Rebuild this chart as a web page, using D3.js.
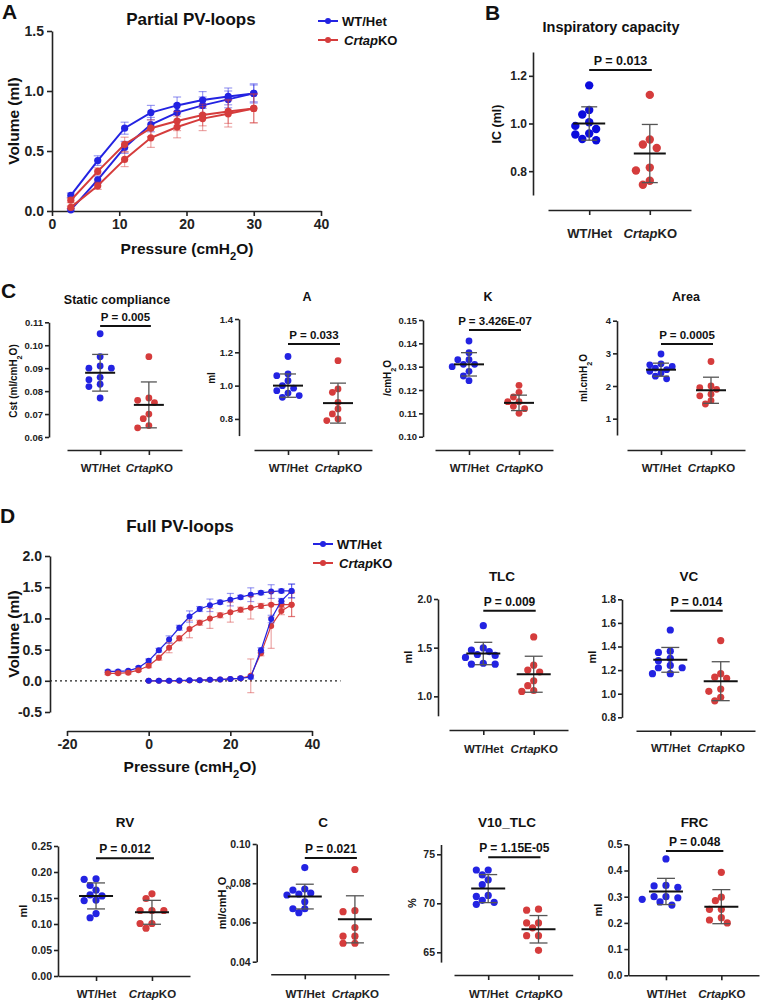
<!DOCTYPE html>
<html lang="en">
<head>
<meta charset="UTF-8">
<title>PV loops</title>
<script src="https://cdn.jsdelivr.net/npm/d3@7"></script>
<style>
body { margin: 0; background: #fff; }
svg { font-family: "Liberation Sans", Arial, sans-serif; font-weight: bold; }
.axis path, .axis line { stroke: #222; stroke-width: 1.6px; }
.axis text { fill: #222; font-family: "Liberation Sans", Arial, sans-serif; font-weight: bold; }
</style>
</head>
<body>
<script>
// ---------------- data ----------------
var groups = ['WT/Het', 'CrtapKO'];

// A  partial PV loops
var partialP = [2.8, 6.8, 10.8, 14.7, 18.6, 22.4, 26.2, 30];
var partWTdef = [0.13, 0.42, 0.69, 0.82, 0.88, 0.925, 0.955, 0.98];
var partWTdefSd = [0.02, 0.04, 0.05, 0.06, 0.07, 0.07, 0.07, 0.07];
var partWTinf = [0.01, 0.26, 0.53, 0.72, 0.82, 0.88, 0.93, 0.98];
var partWTinfSd = [0.01, 0.03, 0.05, 0.06, 0.07, 0.07, 0.07, 0.08];
var partKOdef = [0.09, 0.33, 0.555, 0.69, 0.75, 0.80, 0.83, 0.855];
var partKOdefSd = [0.02, 0.03, 0.06, 0.07, 0.08, 0.09, 0.10, 0.12];
var partKOinf = [0.03, 0.21, 0.43, 0.61, 0.70, 0.77, 0.81, 0.855];
var partKOinfSd = [0.01, 0.03, 0.06, 0.08, 0.09, 0.10, 0.11, 0.12];

// D  full PV loops
var defP = [-10, -7.5, -5, -2.5, 0, 2.5, 5, 7.5, 10, 12.5, 15, 17.5, 20, 22.5, 25, 27.5, 30, 32.5, 35];
var fullWTdef = [0.15, 0.15, 0.16, 0.21, 0.32, 0.49, 0.66, 0.85, 1.03, 1.15, 1.21, 1.26, 1.30, 1.34, 1.38, 1.41, 1.43, 1.44, 1.44];
var fullWTdefSd = [0.02, 0.02, 0.02, 0.02, 0.03, 0.03, 0.06, 0.04, 0.09, 0.04, 0.1, 0.03, 0.1, 0.03, 0.11, 0.03, 0.11, 0.03, 0.11];
var fullKOdef = [0.12, 0.12, 0.13, 0.17, 0.24, 0.37, 0.53, 0.68, 0.83, 0.93, 1.00, 1.05, 1.10, 1.14, 1.17, 1.20, 1.22, 1.22, 1.22];
var fullKOdefSd = [0.02, 0.02, 0.02, 0.02, 0.03, 0.04, 0.08, 0.04, 0.14, 0.04, 0.16, 0.04, 0.16, 0.04, 0.18, 0.04, 0.2, 0.05, 0.19];
var infP = [0, 2.5, 5, 7.5, 10, 12.5, 15, 17.5, 20, 22.5, 25, 27.5, 30, 32.5, 35];
var fullWTinf = [0, 0, 0, 0.005, 0.01, 0.01, 0.015, 0.02, 0.03, 0.04, 0.06, 0.49, 0.99, 1.28, 1.44];
var fullWTinfSd = [0.01, 0.01, 0.01, 0.01, 0.01, 0.01, 0.01, 0.01, 0.01, 0.02, 0.03, 0.04, 0.06, 0.04, 0.11];
var fullKOinf = [0, 0, 0, 0, 0.005, 0.01, 0.015, 0.02, 0.03, 0.04, 0.08, 0.44, 0.88, 1.12, 1.22];
var fullKOinfSd = [0.01, 0.01, 0.01, 0.01, 0.01, 0.01, 0.01, 0.01, 0.01, 0.02, 0.27, 0.04, 0.36, 0.06, 0.19];

// dot plots: individual animals, mean, SD, p value
var icWT = [1.16, 1.057, 1.038, 1.005, 0.99, 0.977, 0.958, 0.954, 0.935, 0.93];
var icKO = [1.12, 0.933, 0.912, 0.897, 0.815, 0.803, 0.76, 0.743];
var icMean = [1.0, 0.874], icSd = [0.07, 0.122];

var cstWT = [0.105, 0.095, 0.091, 0.090, 0.090, 0.086, 0.085, 0.083, 0.082, 0.077];
var cstKO = [0.095, 0.077, 0.076, 0.075, 0.070, 0.068, 0.065, 0.064];
var cstMean = [0.088, 0.074], cstSd = [0.008, 0.010];

var aWT = [1.175, 1.07, 1.06, 1.03, 1.0, 0.985, 0.97, 0.955, 0.94, 0.93];
var aKO = [1.15, 0.98, 0.96, 0.90, 0.86, 0.83, 0.80, 0.79];
var aMean = [1.0, 0.895], aSd = [0.07, 0.12];

var kWT = [0.141, 0.136, 0.133, 0.133, 0.131, 0.131, 0.130, 0.128, 0.126, 0.124];
var kKO = [0.122, 0.119, 0.117, 0.115, 0.115, 0.113, 0.112, 0.110];
var kMean = [0.131, 0.1145], kSd = [0.005, 0.0033];

var areaWT = [2.98, 2.68, 2.65, 2.6, 2.55, 2.5, 2.45, 2.4, 2.3, 2.22];
var areaKO = [2.75, 2.0, 1.95, 1.9, 1.75, 1.7, 1.55, 1.45];
var areaMean = [2.5, 1.87], areaSd = [0.2, 0.4];

var tlcWT = [1.726, 1.497, 1.476, 1.46, 1.43, 1.42, 1.40, 1.34, 1.33, 1.33];
var tlcKO = [1.61, 1.32, 1.27, 1.25, 1.16, 1.11, 1.06, 1.05];
var tlcMean = [1.44, 1.227], tlcSd = [0.115, 0.185];

var vcWT = [1.54, 1.36, 1.35, 1.30, 1.28, 1.24, 1.22, 1.22, 1.17, 1.17];
var vcKO = [1.45, 1.17, 1.14, 1.13, 1.04, 1.02, 0.97, 0.94];
var vcMean = [1.287, 1.106], vcSd = [0.105, 0.165];

var rvWT = [0.187, 0.186, 0.174, 0.165, 0.156, 0.154, 0.146, 0.145, 0.12, 0.112];
var rvKO = [0.158, 0.149, 0.126, 0.126, 0.126, 0.101, 0.101, 0.092];
var rvMean = [0.154, 0.1225], rvSd = [0.025, 0.023];

var cWT = [0.088, 0.077, 0.0765, 0.0745, 0.075, 0.074, 0.0705, 0.067, 0.067, 0.065];
var cKO = [0.087, 0.0655, 0.066, 0.0574, 0.053, 0.053, 0.0494, 0.0494];
var cMean = [0.0732, 0.0616], cSd = [0.0063, 0.012];

var v10WT = [73.4, 73.4, 72.9, 72.4, 71.9, 70.8, 70.7, 70.3, 70.1, 69.9];
var v10KO = [69.4, 69.3, 68.0, 68.0, 67.5, 66.7, 66.7, 65.2];
var v10Mean = [71.5, 67.35], v10Sd = [1.43, 1.4];

var frcWT = [0.444, 0.343, 0.341, 0.336, 0.30, 0.30, 0.296, 0.29, 0.28, 0.268];
var frcKO = [0.393, 0.298, 0.285, 0.252, 0.252, 0.22, 0.211, 0.20];
var frcMean = [0.32, 0.262], frcSd = [0.05, 0.065];

// ---------------- drawing ----------------
var BLUE = '#2323e2', RED = '#d53c3c';
var svg = d3.select('body').append('svg').attr('width', 760).attr('height', 1001);

// plain hyphen minus like the original figure
function fmt(spec) {
	var f = d3.format(spec);
	return function (d) { return f(d).replace('\u2212', '-'); };
}

function rich(t, parts) {
	t.text(null);
	parts.forEach(function (p) {
		var s = t.append('tspan').text(p[0]);
		if (p[1] === 'i') s.attr('font-style', 'italic');
		if (p[1] === 'sub') s.attr('baseline-shift', 'sub').attr('font-size', '0.72em');
	});
	return t;
}
var groupParts = { 'WT/Het': [['WT/Het']], 'CrtapKO': [['Crtap', 'i'], ['KO']] };
var cmH2O = function (pre, post) { return [[pre + 'cmH'], ['2', 'sub'], ['O' + (post || '')]]; };

function label(x, y, parts, size, anchor, rotate) {
	var t = svg.append('text').attr('font-size', size).attr('text-anchor', anchor || 'middle').attr('fill', '#111');
	if (rotate) t.attr('transform', 'translate(' + x + ',' + y + ') rotate(-90)');
	else t.attr('x', x).attr('y', y);
	return rich(t, typeof parts === 'string' ? [[parts]] : parts);
}

// panel letters
label(2, 19, 'A', 21, 'start');
label(485, 20, 'B', 21, 'start');
label(1, 298, 'C', 21, 'start');
label(0, 523, 'D', 21, 'start');

// ---- line panels ----
function series(g, x, y, P, V, E, color, lw, r, cap) {
	var eb = g.append('g').attr('stroke', color).attr('stroke-opacity', 0.45).attr('stroke-width', 1.2);
	P.forEach(function (p, i) {
		eb.append('line').attr('x1', x(p)).attr('x2', x(p)).attr('y1', y(V[i] - E[i])).attr('y2', y(V[i] + E[i]));
		[V[i] - E[i], V[i] + E[i]].forEach(function (v) {
			eb.append('line').attr('x1', x(p) - cap).attr('x2', x(p) + cap).attr('y1', y(v)).attr('y2', y(v));
		});
	});
	g.append('path').datum(P.map(function (p, i) { return [p, V[i]]; }))
		.attr('fill', 'none').attr('stroke', color).attr('stroke-width', lw)
		.attr('d', d3.line().x(function (d) { return x(d[0]); }).y(function (d) { return y(d[1]); }));
	g.selectAll(null).data(P).enter().append('circle')
		.attr('cx', function (p) { return x(p); }).attr('cy', function (p, i) { return y(V[i]); })
		.attr('r', r).attr('fill', color);
}

function legend(x, y, size, lw) {
	[[BLUE, groupParts['WT/Het']], [RED, groupParts['CrtapKO']]].forEach(function (d, i) {
		var yy = y + i * 19;
		svg.append('line').attr('x1', x).attr('x2', x + 20).attr('y1', yy).attr('y2', yy).attr('stroke', d[0]).attr('stroke-width', lw);
		svg.append('circle').attr('cx', x + 10).attr('cy', yy).attr('r', 3).attr('fill', d[0]);
		label(x + 24 + (i ? 2 : 0), yy + 4.5, d[1], size, 'start');
	});
}

// A
(function () {
	var x = d3.scaleLinear().domain([0, 40]).range([52, 321]);
	var y = d3.scaleLinear().domain([0, 1.5]).range([211, 31]);
	svg.append('g').attr('class', 'axis').attr('transform', 'translate(0,211)')
		.call(d3.axisBottom(x).tickValues([0, 10, 20, 30, 40]).tickSize(5).tickSizeOuter(0).tickPadding(3))
		.style('font-size', '14px');
	svg.append('g').attr('class', 'axis').attr('transform', 'translate(52,0)')
		.call(d3.axisLeft(y).tickValues([0, 0.5, 1, 1.5]).tickFormat(fmt('.1f')).tickSize(5).tickSizeOuter(0).tickPadding(3))
		.style('font-size', '14px');
	var g = svg.append('g');
	series(g, x, y, partialP, partWTdef, partWTdefSd, BLUE, 2, 3.6, 4);
	series(g, x, y, partialP, partWTinf, partWTinfSd, BLUE, 2, 3.6, 4);
	series(g, x, y, partialP, partKOdef, partKOdefSd, RED, 2, 3.6, 4);
	series(g, x, y, partialP, partKOinf, partKOinfSd, RED, 2, 3.6, 4);
	label(191, 25, 'Partial PV-loops', 17);
	label(187, 254, cmH2O('Pressure (', ')'), 15.5);
	label(19, 121, 'Volume (ml)', 15.5, 'middle', true);
	legend(318, 21, 13, 2);
})();

// D
(function () {
	var x = d3.scaleLinear().domain([-20, 40]).range([67, 312]);
	var y = d3.scaleLinear().domain([-0.5, 2]).range([712, 556]);
	svg.append('g').attr('class', 'axis').attr('transform', 'translate(0,731)')
		.call(d3.axisBottom(x).tickValues([-20, 0, 20, 40]).tickFormat(fmt('d')).tickSize(5).tickSizeOuter(0).tickPadding(3))
		.style('font-size', '14px');
	svg.append('g').attr('class', 'axis').attr('transform', 'translate(50,0)')
		.call(d3.axisLeft(y).tickValues([-0.5, 0, 0.5, 1, 1.5, 2]).tickFormat(fmt('.1f')).tickSize(5).tickSizeOuter(0).tickPadding(3))
		.style('font-size', '14px');
	svg.append('line').attr('x1', 50).attr('x2', x(47)).attr('y1', y(0)).attr('y2', y(0))
		.attr('stroke', '#222').attr('stroke-width', 1.3).attr('stroke-dasharray', '2,3');
	var g = svg.append('g');
	series(g, x, y, defP, fullWTdef, fullWTdefSd, BLUE, 1.2, 3, 3.5);
	series(g, x, y, defP, fullKOdef, fullKOdefSd, RED, 1.2, 3, 3.5);
	series(g, x, y, infP, fullKOinf, fullKOinfSd, RED, 1.2, 3, 3.5);
	series(g, x, y, infP, fullWTinf, fullWTinfSd, BLUE, 1.2, 3, 3.5);
	label(180, 532, 'Full PV-loops', 17);
	label(190, 772, cmH2O('Pressure (', ')'), 15.5);
	label(19, 634, 'Volume (ml)', 15.5, 'middle', true);
	legend(313, 544, 13, 2);
})();

// ---- dot plots ----
function swarm(vals, y, cx, r, s) {
	var placed = [];
	vals.slice().sort(function (a, b) { return b - a; }).forEach(function (v) {
		var py = y(v);
		for (var k = 0; k < 11; k++) {
			var px = cx + (k % 2 ? -1 : 1) * Math.ceil(k / 2) * s;
			if (placed.every(function (p) { return Math.hypot(p.x - px, p.y - py) >= 1.9 * r; })) {
				placed.push({ x: px, y: py });
				break;
			}
		}
	});
	return placed;
}

function dotPanel(c) {
	var g = svg.append('g');
	var y = d3.scaleLinear().domain(c.yDomain).range([c.yBottom, c.yTop]);
	var x = d3.scalePoint().domain(groups).range(c.xAxis).padding(0.68);
	g.append('g').attr('class', 'axis').attr('transform', 'translate(' + c.yAxisX + ',0)')
		.call(d3.axisLeft(y).tickValues(c.ticks).tickFormat(fmt(c.fmt)).tickSize(4).tickSizeOuter(0).tickPadding(2))
		.style('font-size', c.tickFont + 'px');
	var xa = g.append('g').attr('class', 'axis').attr('transform', 'translate(0,' + c.xAxisY + ')')
		.call(d3.axisBottom(x).tickSize(5).tickSizeOuter(0));
	xa.selectAll('.tick text').attr('y', c.labelY - c.xAxisY).attr('dy', 0).style('font-size', c.labelFont + 'px')
		.each(function (d) { rich(d3.select(this), groupParts[d]); });

	[c.wt, c.ko].forEach(function (vals, gi) {
		var col = gi ? RED : (c.blue || BLUE);
		var cx = x(groups[gi]);
		g.selectAll(null).data(swarm(vals, y, cx, c.r, c.r * 1.65)).enter().append('circle')
			.attr('cx', function (d) { return d.x; }).attr('cy', function (d) { return d.y; })
			.attr('r', c.r).attr('fill', col);
		var m = c.mean[gi], s = c.sd[gi];
		g.append('line').attr('x1', cx).attr('x2', cx).attr('y1', y(m - s)).attr('y2', y(m + s)).attr('stroke', '#555').attr('stroke-width', 1.3);
		[m - s, m + s].forEach(function (v) {
			g.append('line').attr('x1', cx - c.cap).attr('x2', cx + c.cap).attr('y1', y(v)).attr('y2', y(v)).attr('stroke', '#555').attr('stroke-width', 1.3);
		});
		g.append('line').attr('x1', cx - c.mw).attr('x2', cx + c.mw).attr('y1', y(m)).attr('y2', y(m)).attr('stroke', '#111').attr('stroke-width', 2);
	});

	var x0 = x(groups[0]), x1 = x(groups[1]);
	g.append('line').attr('x1', x0).attr('x2', x1 + 2).attr('y1', c.pY).attr('y2', c.pY).attr('stroke', '#111').attr('stroke-width', 2);
	label((x0 + x1) / 2 + 1, c.pY - 5, c.p, c.pFont);
	label(c.title[0], c.title[1], c.title[2], c.titleFont);
	label(c.ylab[0], c.ylab[1], c.ylab[2], c.ylabFont, 'middle', true);
}

var rowC = { xAxisY: 450, labelY: 471.5, tickFont: 9.5, labelFont: 11.5, r: 3.4, cap: 8, mw: 15, pFont: 11.5, titleFont: 12.5, ylabFont: 10 };
var rowD = { xAxisY: 730, labelY: 752.5, tickFont: 10.5, labelFont: 11.5, r: 3.6, cap: 9, mw: 17, pFont: 12, titleFont: 13.5, ylabFont: 11 };
var rowE = { xAxisY: 975.5, labelY: 998, tickFont: 10.5, labelFont: 11.5, r: 3.6, cap: 9, mw: 17, pFont: 12, titleFont: 13.5, ylabFont: 11 };

dotPanel({
	wt: icWT, ko: icKO, mean: icMean, sd: icSd, p: 'P = 0.013', blue: '#0c0cdc',
	yAxisX: 533, yTop: 52, yBottom: 195, yDomain: [0.7, 1.3], ticks: [0.8, 1.0, 1.2], fmt: '.1f',
	xAxis: [548, 691], xAxisY: 210, labelY: 237.5, tickFont: 12, labelFont: 13, r: 4.2, cap: 8, mw: 16,
	pY: 70, pFont: 12.5, title: [611, 32, 'Inspiratory capacity'], titleFont: 14.5, ylab: [501, 124, 'IC (ml)'], ylabFont: 12.5
});

dotPanel(Object.assign({}, rowC, {
	wt: cstWT, ko: cstKO, mean: cstMean, sd: cstSd, p: 'P = 0.005',
	yAxisX: 49, yTop: 322.3, yBottom: 437, yDomain: [0.06, 0.11], ticks: [0.06, 0.07, 0.08, 0.09, 0.10, 0.11], fmt: '.2f',
	xAxis: [67, 182], pY: 326, title: [117, 304, 'Static compliance'], ylab: [17, 381, [['Cst (ml/cmH'], ['2', 'sub'], ['O)']]]
}));
dotPanel(Object.assign({}, rowC, {
	wt: aWT, ko: aKO, mean: aMean, sd: aSd, p: 'P = 0.033',
	yAxisX: 239, yTop: 319, yBottom: 435.6, yDomain: [0.7, 1.4], ticks: [0.8, 1.0, 1.2, 1.4], fmt: '.1f',
	xAxis: [254, 372], pY: 344, title: [307, 301, 'A'], ylab: [215, 378, 'ml']
}));
dotPanel(Object.assign({}, rowC, {
	wt: kWT, ko: kKO, mean: kMean, sd: kSd, p: 'P = 3.426E-07',
	yAxisX: 423, yTop: 320, yBottom: 436.7, yDomain: [0.10, 0.15], ticks: [0.10, 0.11, 0.12, 0.13, 0.14, 0.15], fmt: '.2f',
	xAxis: [435, 553], pY: 330, title: [488, 301, 'K'], ylab: [391, 378, cmH2O('/')]
}));
dotPanel(Object.assign({}, rowC, {
	wt: areaWT, ko: areaKO, mean: areaMean, sd: areaSd, p: 'P = 0.0005',
	yAxisX: 617, yTop: 320.7, yBottom: 435, yDomain: [0.5, 4], ticks: [1, 2, 3, 4], fmt: 'd',
	xAxis: [627, 745], pY: 344, title: [686, 301, 'Area'], ylab: [587, 378, cmH2O('ml.')]
}));

dotPanel(Object.assign({}, rowD, {
	wt: tlcWT, ko: tlcKO, mean: tlcMean, sd: tlcSd, p: 'P = 0.009',
	yAxisX: 438, yTop: 599, yBottom: 715.8, yDomain: [0.8, 2.0], ticks: [1.0, 1.5, 2.0], fmt: '.1f',
	xAxis: [449, 568], pY: 610.7, title: [502, 581, 'TLC'], ylab: [412, 657, 'ml']
}));
dotPanel(Object.assign({}, rowD, {
	wt: vcWT, ko: vcKO, mean: vcMean, sd: vcSd, p: 'P = 0.014',
	yAxisX: 622, yTop: 599.3, yBottom: 717.3, yDomain: [0.8, 1.8], ticks: [0.8, 1.0, 1.2, 1.4, 1.6, 1.8], fmt: '.1f',
	xAxis: [636, 755], xAxisY: 730.7, pY: 610.7, title: [689, 581, 'VC'], ylab: [596, 657, 'ml']
}));

dotPanel(Object.assign({}, rowE, {
	wt: rvWT, ko: rvKO, mean: rvMean, sd: rvSd, p: 'P = 0.012',
	yAxisX: 58, yTop: 846, yBottom: 976, yDomain: [0, 0.25], ticks: [0, 0.05, 0.10, 0.15, 0.20, 0.25], fmt: '.2f',
	xAxis: [58, 190], xAxisY: 976, pY: 858.3, title: [125, 827, 'RV'], ylab: [27, 911, 'ml']
}));
dotPanel(Object.assign({}, rowE, {
	wt: cWT, ko: cKO, mean: cMean, sd: cSd, p: 'P = 0.021',
	yAxisX: 256.7, yTop: 844, yBottom: 961.7, yDomain: [0.04, 0.10], ticks: [0.04, 0.06, 0.08, 0.10], fmt: '.2f',
	xAxis: [270.7, 389], xAxisY: 974.3, pY: 858, title: [323, 827, 'C'], ylab: [226, 903, [['ml/cmH'], ['2', 'sub'], ['O']]]
}));
dotPanel(Object.assign({}, rowE, {
	wt: v10WT, ko: v10KO, mean: v10Mean, sd: v10Sd, p: 'P = 1.15E-05',
	yAxisX: 441, yTop: 844.5, yBottom: 962.1, yDomain: [64, 76], ticks: [65, 70, 75], fmt: 'd',
	xAxis: [454, 572.7], xAxisY: 975, pY: 857.3, title: [507, 827, 'V10_TLC'], ylab: [416, 903, '%']
}));
dotPanel(Object.assign({}, rowE, {
	wt: frcWT, ko: frcKO, mean: frcMean, sd: frcSd, p: 'P = 0.048',
	yAxisX: 628.3, yTop: 844.3, yBottom: 975.3, yDomain: [0, 0.5], ticks: [0, 0.1, 0.2, 0.3, 0.4, 0.5], fmt: '.1f',
	xAxis: [628.3, 759], xAxisY: 975.3, pY: 851, title: [694.5, 827, 'FRC'], ylab: [602, 910, 'ml']
}));
</script>
</body>
</html>
